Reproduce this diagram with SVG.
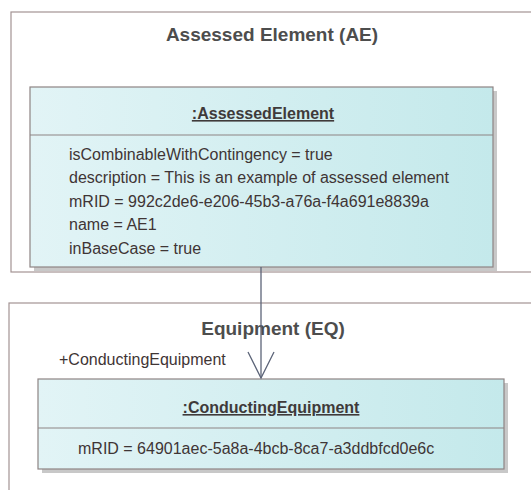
<svg xmlns="http://www.w3.org/2000/svg" width="531" height="490" viewBox="0 0 531 490">
  <defs>
    <linearGradient id="boxFill" x1="0" y1="0" x2="1" y2="0">
      <stop offset="0" stop-color="#e2f4f6"/>
      <stop offset="1" stop-color="#c4e9eb"/>
    </linearGradient>
    <marker id="openArrow" viewBox="0 0 30 30" refX="28" refY="15" markerWidth="30" markerHeight="30" markerUnits="userSpaceOnUse" orient="auto">
      <path d="M 2 2 L 28 15 L 2 28" fill="none" stroke="#5c6478" stroke-width="1.3"/>
    </marker>
    <style>
      .pkg { fill: #ffffff; stroke: #a39393; stroke-width: 1.2; }
      .pkgTitle { font-family: "Liberation Sans", Arial, sans-serif; font-size: 19px; font-weight: bold; fill: #4d4d4d; text-anchor: middle; }
      .box { fill: url(#boxFill); stroke: #8e8484; stroke-width: 1.2; }
      .shadow { fill: #c8c8c8; }
      .div { stroke: #8e8484; stroke-width: 1.2; }
      .objTitle { font-family: "Liberation Sans", Arial, sans-serif; font-size: 16px; font-weight: bold; fill: #3f3a3a; text-anchor: middle; text-decoration: underline; }
      .attr { font-family: "Liberation Sans", Arial, sans-serif; font-size: 16px; fill: #3f3535; }
      .role { font-family: "Liberation Sans", Arial, sans-serif; font-size: 16px; fill: #3f3535; }
      .conn { stroke: #5c6478; stroke-width: 1.3; fill: none; }
    </style>
  </defs>

  <g id="pkg-AE">
    <rect class="pkg" x="11" y="12" width="530" height="260"/>
    <text class="pkgTitle" x="272" y="41">Assessed Element (AE)</text>
  </g>

  <g id="pkg-EQ">
    <rect class="pkg" x="9" y="303" width="532" height="200"/>
    <text class="pkgTitle" x="273" y="335">Equipment (EQ)</text>
  </g>

  <g id="node-AssessedElement">
    <rect class="shadow" x="34" y="91" width="463" height="180"/>
    <rect class="box" x="30" y="87" width="463" height="180"/>
    <line class="div" x1="30" y1="135" x2="493" y2="135"/>
    <text class="objTitle" x="263" y="119">:AssessedElement</text>
    <text class="attr" x="69" y="160">isCombinableWithContingency = true</text>
    <text class="attr" x="69" y="183">description = This is an example of assessed element</text>
    <text class="attr" x="69" y="207">mRID = 992c2de6-e206-45b3-a76a-f4a691e8839a</text>
    <text class="attr" x="69" y="230">name = AE1</text>
    <text class="attr" x="69" y="254">inBaseCase = true</text>
  </g>

  <g id="node-ConductingEquipment">
    <rect class="shadow" x="42" y="383" width="466" height="90"/>
    <rect class="box" x="38" y="379" width="466" height="90"/>
    <line class="div" x1="38" y1="428" x2="504" y2="428"/>
    <text class="objTitle" x="271" y="413">:ConductingEquipment</text>
    <text class="attr" x="78" y="454">mRID = 64901aec-5a8a-4bcb-8ca7-a3ddbfcd0e6c</text>
  </g>

  <g id="connectors">
    <line class="conn" x1="261" y1="267" x2="261" y2="378" marker-end="url(#openArrow)"/>
    <text class="role" x="59" y="365">+ConductingEquipment</text>
  </g>
</svg>
